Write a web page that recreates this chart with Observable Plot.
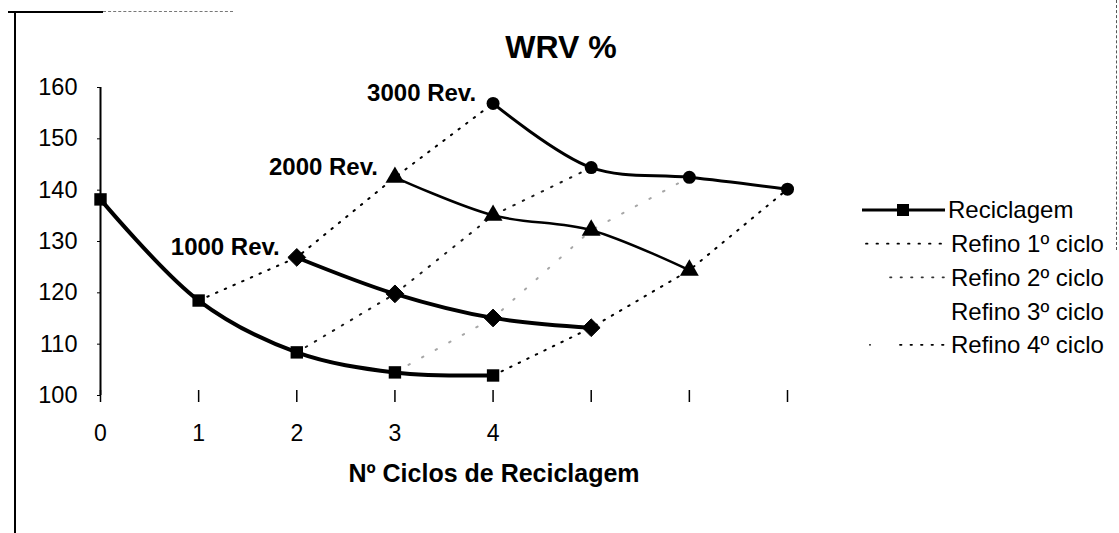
<!DOCTYPE html>
<html><head><meta charset="utf-8">
<script src="https://cdn.jsdelivr.net/npm/d3@7"></script>
<script src="https://cdn.jsdelivr.net/npm/@observablehq/plot@0.6"></script>
<style>
body{margin:0;background:#fff;}
#wrap{position:relative;width:1119px;height:533px;overflow:hidden;font-family:"Liberation Sans",Arial,sans-serif;color:#000;background:#fff;}
#wrap svg.plot{position:absolute;left:0;top:0;}
.lbl{position:absolute;white-space:nowrap;line-height:1;transform:translate(-50%,-50%);}
#title{left:561px;top:47px;font-size:32px;font-weight:bold;}
#xtitle{left:494px;top:473px;font-size:25px;font-weight:bold;}
#legend{position:absolute;left:858px;top:190px;}
.frame{position:absolute;background:#000;}
</style></head><body><div id="wrap">
<div class="frame" style="left:14px;top:11px;width:2px;height:522px;"></div>
<div class="frame" style="left:8px;top:11px;width:95px;height:2px;"></div>
<div style="position:absolute;left:103px;top:11px;width:130px;border-top:1px dashed #777;"></div>
<div style="position:absolute;left:1116px;top:0;height:250px;border-left:1.5px dashed #555;"></div>
</div>
<script>
// ---- data ----
const ciclos = [0, 1, 2, 3, 4, 5, 6, 7];
const xLabelTicks = [0, 1, 2, 3, 4];
const yTicks = [100, 110, 120, 130, 140, 150, 160];

const reciclagemX = [0, 1, 2, 3, 4];
const reciclagem = [138.2, 118.5, 108.4, 104.5, 103.9];
const rev1000X = [2, 3, 4, 5];
const rev1000 = [126.9, 119.8, 115.1, 113.2];
const rev2000X = [3, 4, 5, 6];
const rev2000 = [142.5, 135.1, 132.2, 124.4];
const rev3000X = [4, 5, 6, 7];
const rev3000 = [156.9, 144.4, 142.5, 140.2];

const revLabels = ["1000 Rev.", "2000 Rev.", "3000 Rev."];
const legendLabels = ["Reciclagem", "Refino 1º ciclo", "Refino 2º ciclo", "Refino 3º ciclo", "Refino 4º ciclo"];
const titleText = "WRV %";
const xTitle = "Nº Ciclos de Reciclagem";

// ---- build tables ----
const rows = (xs, ys) => xs.map((x, i) => ({x, y: ys[i]}));
const recRows = rows(reciclagemX, reciclagem);
const r1Rows = rows(rev1000X, rev1000);
const r2Rows = rows(rev2000X, rev2000);
const r3Rows = rows(rev3000X, rev3000);
// refino k-th cycle connects the k-th point of each curve
const refino = [1, 2, 3, 4].map(k => [recRows[k], r1Rows[k - 1], r2Rows[k - 1], r3Rows[k - 1]]);
const labelRows = [r1Rows[0], r2Rows[0], r3Rows[0]].map((d, i) => ({...d, text: revLabels[i]}));

const font = '"Liberation Sans", Arial, sans-serif';
const dotted = (data, opacity, dash) => Plot.line(data, {x: "x", y: "y", stroke: "#000", strokeWidth: 2, strokeDasharray: dash, strokeOpacity: opacity, strokeLinecap: "round"});

const chart = Plot.plot({
  width: 1119, height: 533,
  marginLeft: 100, marginRight: 332, marginTop: 87, marginBottom: 138,
  x: {domain: [0, 7]},
  y: {domain: [100, 160]},
  style: {fontFamily: font, fontSize: "23px", color: "#000", background: "transparent", overflow: "visible"},
  marks: [
    Plot.axisY({ticks: yTicks, tickSize: 3, tickPadding: 20, fontSize: 23.5, tickFormat: d => String(d), label: null}),
    Plot.axisX({ticks: ciclos, tickSize: 12, dy: -5, tickFormat: () => "", strokeWidth: 1.5, label: null}),
    Plot.axisX({ticks: xLabelTicks, tickSize: 0, tickPadding: 29, fontSize: 23, tickFormat: d => String(d), label: null}),
    Plot.ruleX([0], {stroke: "#000", strokeWidth: 2}),
    dotted(refino[0], 1, "1.5,8"),
    dotted(refino[1], 0.9, "1.5,9"),
    dotted(refino[2], 0.35, "1.5,14"),
    dotted(refino[3], 1, "1.5,8"),
    Plot.line(recRows, {x: "x", y: "y", curve: "catmull-rom", strokeWidth: 4, stroke: "#000"}),
    Plot.line(r1Rows, {x: "x", y: "y", curve: "catmull-rom", strokeWidth: 3.8, stroke: "#000"}),
    Plot.line(r2Rows, {x: "x", y: "y", curve: "catmull-rom", strokeWidth: 2.5, stroke: "#000"}),
    Plot.line(r3Rows, {x: "x", y: "y", curve: "catmull-rom", strokeWidth: 3, stroke: "#000"}),
    Plot.dot(recRows, {x: "x", y: "y", symbol: "square", r: 7, fill: "#000"}),
    Plot.dot(r1Rows, {x: "x", y: "y", symbol: "diamond2", r: 8, fill: "#000", stroke: "#000", strokeWidth: 1}),
    Plot.dot(r2Rows, {x: "x", y: "y", symbol: "triangle", r: 7, fill: "#000"}),
    Plot.dot(r3Rows, {x: "x", y: "y", symbol: "circle", r: 6.5, fill: "#000"}),
    Plot.text(labelRows, {x: "x", y: "y", text: "text", textAnchor: "end", dx: -17, dy: -10, fontWeight: "bold", fontSize: 24})
  ]
});
const wrap = document.getElementById("wrap");
wrap.appendChild(chart);

// titles
const t = document.createElement("div"); t.id = "title"; t.className = "lbl"; t.textContent = titleText; wrap.appendChild(t);
const xt = document.createElement("div"); xt.id = "xtitle"; xt.className = "lbl"; xt.textContent = xTitle; wrap.appendChild(xt);

// legend
const lg = d3.select(wrap).append("svg").attr("id", "legend").attr("width", 261).attr("height", 180)
  .style("font-family", font).style("overflow", "visible");
const rowH = 33.7;
legendLabels.forEach((name, i) => {
  const g = lg.append("g").attr("transform", `translate(0,${20 + i * rowH})`);
  if (i === 0) {
    g.append("line").attr("x1", 4).attr("x2", 87).attr("stroke", "#000").attr("stroke-width", 3);
    g.append("rect").attr("x", 39).attr("y", -6).attr("width", 12).attr("height", 12).attr("fill", "#000");
  } else if (i === 1) {
    g.append("line").attr("x1", 8).attr("x2", 87).attr("stroke", "#000").attr("stroke-width", 1.8).attr("stroke-dasharray", "1.5,9").attr("stroke-linecap", "round");
  } else if (i === 2) {
    g.append("line").attr("x1", 32).attr("x2", 87).attr("stroke", "#000").attr("stroke-width", 1.6).attr("stroke-opacity", 0.8).attr("stroke-dasharray", "1.5,9").attr("stroke-linecap", "round");
  } else if (i === 4) {
    g.append("line").attr("x1", 42).attr("x2", 87).attr("stroke", "#000").attr("stroke-width", 1.8).attr("stroke-dasharray", "1.5,9").attr("stroke-linecap", "round");
    g.append("circle").attr("cx", 12).attr("cy", 0).attr("r", 0.9).attr("fill", "#000");
  }
  g.append("text").attr("x", i === 0 ? 90 : 93).attr("y", 0).attr("dy", "0.35em").attr("font-size", 24).text(name);
});
</script>
</body></html>
